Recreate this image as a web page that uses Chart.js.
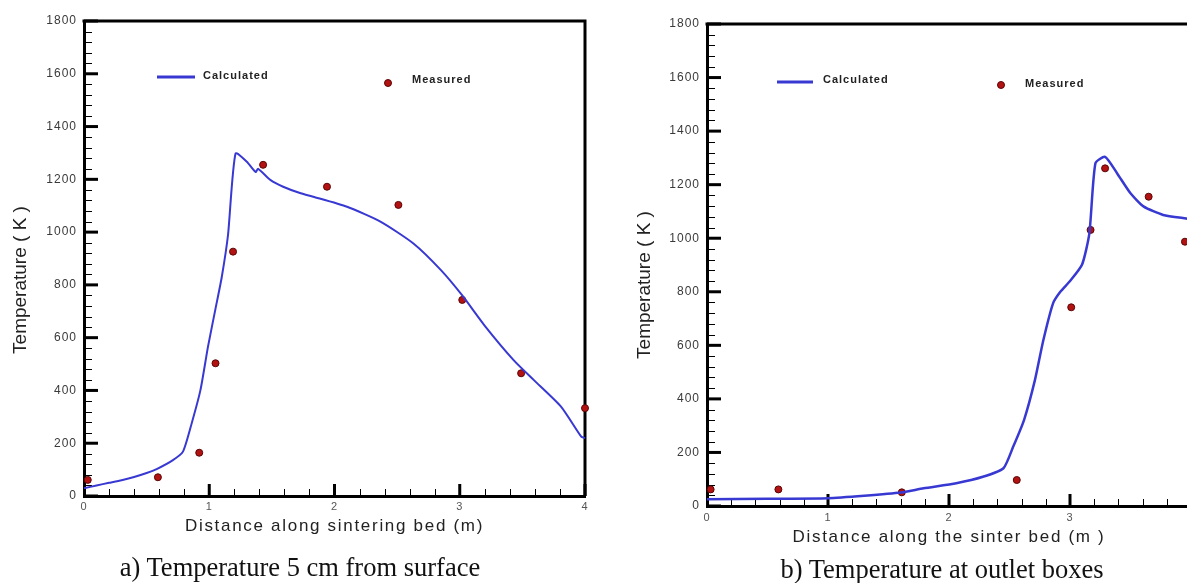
<!DOCTYPE html>
<html>
<head>
<meta charset="utf-8">
<script src="https://cdn.jsdelivr.net/npm/chart.js@4.4.1/dist/chart.umd.min.js"></script>
<style>
  html, body { margin: 0; padding: 0; background: #fff; overflow: hidden; width: 1187px; height: 583px; }
  canvas { position: absolute; top: 0; }
  #chartA { left: 0; }
  #chartB { left: 620px; }
  .caption {
    position: absolute;
    font-family: 'Liberation Serif', 'Times New Roman', serif;
    font-size: 26.5px;
    line-height: 26.5px;
    color: #111;
    white-space: nowrap;
    transform: translateX(-50%);
  }
</style>
</head>
<body>
<canvas id="chartA" width="600" height="583"></canvas>
<canvas id="chartB" width="586" height="583"></canvas>
<div class="caption" style="left:300px;top:554px">a) Temperature 5 cm from surface</div>
<div class="caption" style="left:942px;top:556px">b) Temperature at outlet boxes</div>

<script>
// tick labels (both panels)
const xTicks = [0, 1, 2, 3, 4];
const yTicks = [0, 200, 400, 600, 800, 1000, 1200, 1400, 1600, 1800];

// a) temperature 5 cm from surface
const calcDistA = [0, 0.1, 0.2, 0.3, 0.4, 0.5, 0.58, 0.71, 0.79, 0.86, 0.93, 0.99, 1.05, 1.1, 1.15, 1.21, 1.3, 1.37, 1.39, 1.49, 1.59, 1.73, 1.83, 2.1, 2.37, 2.63, 2.85, 3.02, 3.2, 3.43, 3.59, 3.81, 3.97, 4.0];
const calcTempA = [29, 40, 50, 60, 72, 87, 102, 136, 168, 276, 402, 566, 710, 830, 990, 1298, 1267, 1228, 1240, 1197, 1172, 1147, 1134, 1096, 1039, 957, 856, 760, 645, 515, 440, 338, 225, 220];
const measDistA = [0.03, 0.59, 0.92, 1.05, 1.19, 1.43, 1.94, 2.51, 3.02, 3.49, 4.0];
const measTempA = [61, 71, 164, 503, 926, 1255, 1172, 1103, 743, 465, 333];

// b) temperature at outlet boxes
const calcDistB = [0, 0.5, 1.0, 1.3, 1.6, 1.79, 2.06, 2.28, 2.45, 2.53, 2.62, 2.71, 2.78, 2.86, 2.92, 3.0, 3.1, 3.16, 3.21, 3.29, 3.39, 3.5, 3.61, 3.77, 3.96, 4.0];
const calcTempB = [25, 27, 29, 38, 50, 66, 85, 109, 141, 221, 321, 470, 620, 757, 800, 840, 902, 1018, 1280, 1304, 1242, 1168, 1118, 1087, 1074, 1072];
const measDistB = [0.03, 0.59, 1.61, 2.56, 3.01, 3.17, 3.29, 3.65, 3.95];
const measTempB = [62, 62, 51, 97, 742, 1031, 1261, 1155, 987];

const lineBlue = '#3838d2';
const dotRed = '#b31212';

// letter spacing: titles get wide spacing, tick labels narrower
const spacing = {
  id: 'spacing',
  beforeDraw(chart) { chart.ctx.letterSpacing = '1.7px'; },
  beforeDatasetsDraw(chart) { chart.ctx.letterSpacing = '1px'; }
};

// top/right frame + inward major/minor ticks
const frameTicks = {
  id: 'frameTicks',
  beforeDatasetsDraw(chart) {
    const ctx = chart.ctx;
    const a = chart.chartArea;
    const x = chart.scales.x, y = chart.scales.y;
    ctx.save();
    ctx.strokeStyle = '#000';
    ctx.lineWidth = 3;
    ctx.beginPath();
    ctx.moveTo(a.left - 1.5, a.top);
    ctx.lineTo(a.right, a.top);
    ctx.lineTo(a.right, a.bottom);
    ctx.stroke();

    for (let i = 0; i < yTicks.length; i++) {
      let py = y.getPixelForValue(yTicks[i]);
      ctx.lineWidth = 3;
      ctx.beginPath(); ctx.moveTo(a.left, py); ctx.lineTo(a.left + 14, py); ctx.stroke();
      if (i < yTicks.length - 1) {
        let step = (yTicks[i + 1] - yTicks[i]) / 5;
        ctx.lineWidth = 1;
        for (let k = 1; k < 5; k++) {
          let pm = Math.round(y.getPixelForValue(yTicks[i] + k * step)) + 0.5;
          ctx.beginPath(); ctx.moveTo(a.left, pm); ctx.lineTo(a.left + 8, pm); ctx.stroke();
        }
      }
    }
    for (let i = 0; i < xTicks.length; i++) {
      let px = x.getPixelForValue(xTicks[i]);
      if (i > 0) {
        ctx.lineWidth = 3;
        ctx.beginPath(); ctx.moveTo(px, a.bottom); ctx.lineTo(px, a.bottom - 12); ctx.stroke();
      }
      if (i < xTicks.length - 1) {
        let step = (xTicks[i + 1] - xTicks[i]) / 5;
        ctx.lineWidth = 1;
        for (let k = 1; k < 5; k++) {
          let pm = Math.round(x.getPixelForValue(xTicks[i] + k * step)) + 0.5;
          ctx.beginPath(); ctx.moveTo(pm, a.bottom); ctx.lineTo(pm, a.bottom - 7); ctx.stroke();
        }
      }
    }
    ctx.restore();
    ctx.letterSpacing = '1px';
  }
};

// legend drawn inside the plot, entries placed apart like the original
const insideLegend = {
  id: 'insideLegend',
  afterDatasetsDraw(chart, args, o) {
    const ctx = chart.ctx;
    const a = chart.chartArea;
    const calc = chart.data.datasets[0];
    const meas = chart.data.datasets[1];
    ctx.save();
    ctx.letterSpacing = '1px';
    ctx.strokeStyle = calc.borderColor;
    ctx.lineWidth = 3;
    ctx.beginPath();
    ctx.moveTo(a.left + o.line[0], a.top + o.line[2]);
    ctx.lineTo(a.left + o.line[1], a.top + o.line[2]);
    ctx.stroke();
    ctx.font = 'bold 11px "Liberation Sans", Arial, sans-serif';
    ctx.fillStyle = '#222';
    ctx.textBaseline = 'middle';
    ctx.fillText(calc.label, a.left + o.calcText[0], a.top + o.calcText[1]);
    ctx.beginPath();
    ctx.arc(a.left + o.dot[0], a.top + o.dot[1], 3.5, 0, Math.PI * 2);
    ctx.fillStyle = meas.pointBackgroundColor;
    ctx.fill();
    ctx.lineWidth = 1;
    ctx.strokeStyle = meas.pointBorderColor;
    ctx.stroke();
    ctx.fillStyle = '#222';
    ctx.fillText(meas.label, a.left + o.measText[0], a.top + o.measText[1]);
    ctx.restore();
  }
};

// rotated y title
const yTitle = {
  id: 'yTitle',
  afterDraw(chart, args, o) {
    const ctx = chart.ctx;
    ctx.save();
    ctx.letterSpacing = '0px';
    ctx.translate(o.x, o.y);
    ctx.rotate(-Math.PI / 2);
    ctx.font = '19px "Liberation Sans", Arial, sans-serif';
    ctx.fillStyle = '#222';
    ctx.textAlign = 'center';
    ctx.textBaseline = 'middle';
    ctx.fillText(o.text, 0, 0);
    ctx.restore();
  }
};

function toPoints(xs, ys) {
  return xs.map((v, i) => ({ x: v, y: ys[i] }));
}

function makeChart(id, cfg) {
  return new Chart(document.getElementById(id), {
    type: 'line',
    data: {
      datasets: [{
        label: 'Calculated',
        data: toPoints(cfg.calcDist, cfg.calcTemp),
        borderColor: lineBlue,
        backgroundColor: lineBlue,
        borderWidth: cfg.lineWidth,
        tension: 0.2,
        pointRadius: 0,
        fill: false,
        clip: false
      }, {
        label: 'Measured',
        data: toPoints(cfg.measDist, cfg.measTemp),
        showLine: false,
        pointRadius: 3.5,
        pointBackgroundColor: dotRed,
        pointBorderColor: '#5a0505',
        pointBorderWidth: 1,
        clip: false
      }]
    },
    options: {
      responsive: false,
      animation: false,
      events: [],
      layout: { padding: { top: cfg.top, right: 15, left: 0, bottom: 0 } },
      plugins: {
        legend: { display: false },
        tooltip: { enabled: false },
        insideLegend: cfg.legend,
        yTitle: cfg.yTitle
      },
      scales: {
        x: {
          type: 'linear',
          min: 0,
          max: 4,
          afterBuildTicks: s => { s.ticks = xTicks.map(v => ({ value: v })); },
          afterFit: s => { s.height = cfg.xHeight; },
          grid: { display: false, drawTicks: false },
          border: { display: true, color: '#000', width: 3 },
          ticks: {
            z: 1,
            padding: cfg.xTickPad,
            color: '#555',
            maxRotation: 0,
            autoSkip: false,
            font: { family: 'Liberation Sans', size: 11 },
            callback: v => String(v)
          },
          title: {
            display: true,
            text: cfg.xTitle,
            color: '#222',
            font: { family: 'Liberation Sans', size: 17 },
            padding: { top: 0, bottom: cfg.xTitlePad }
          }
        },
        y: {
          type: 'linear',
          min: 0,
          max: 1800,
          afterBuildTicks: s => { s.ticks = yTicks.map(v => ({ value: v })); },
          afterFit: s => { s.width = cfg.yWidth; },
          grid: { display: false, drawTicks: false },
          border: { display: true, color: '#000', width: 3 },
          ticks: {
            z: 1,
            padding: 7,
            color: '#3a3a3a',
            autoSkip: false,
            font: { family: 'Liberation Sans', size: 12 },
            callback: v => String(v)
          }
        }
      }
    },
    plugins: [spacing, frameTicks, insideLegend, yTitle]
  });
}

const chartA = makeChart('chartA', {
  calcDist: calcDistA, calcTemp: calcTempA,
  measDist: measDistA, measTemp: measTempA,
  lineWidth: 2,
  top: 21, yWidth: 84, xHeight: 87, xTickPad: 4, xTitlePad: 46,
  xTitle: 'Distance along sintering bed (m)',
  yTitle: { text: 'Temperature ( K )', x: 21, y: 280 },
  legend: { line: [73, 111, 56], calcText: [119, 55], dot: [304, 62], measText: [328, 59] }
});

const chartB = makeChart('chartB', {
  calcDist: calcDistB, calcTemp: calcTempB,
  measDist: measDistB, measTemp: measTempB,
  lineWidth: 2.5,
  top: 24, yWidth: 87, xHeight: 77, xTickPad: 5, xTitlePad: 35,
  xTitle: 'Distance along the sinter bed (m )',
  yTitle: { text: 'Temperature ( K )', x: 25, y: 285 },
  legend: { line: [70, 106, 58], calcText: [116, 56], dot: [294, 61], measText: [318, 60] }
});
</script>
</body>
</html>
